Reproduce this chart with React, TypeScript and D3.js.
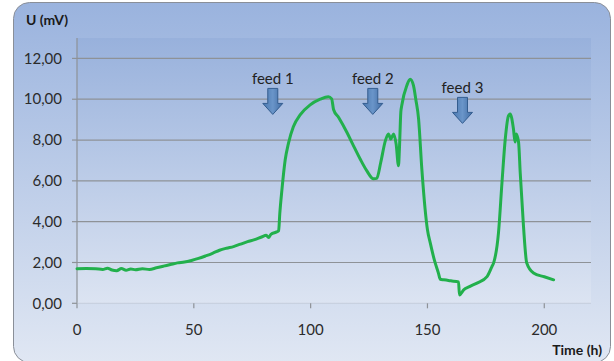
import React from 'react';
import * as d3 from 'd3';

// readings
const timeH = [0, 4, 8, 11, 13, 15, 17, 19, 21, 23, 25, 28, 31, 34, 37, 40, 43, 46, 49, 52, 55, 58, 61, 64, 67, 70, 73, 76, 79, 81, 82, 83, 85.5, 86.3, 86.8, 87.7, 89.1, 90.5, 92.6, 95.5, 99.8, 104.1, 107.6, 109, 109.8, 112, 115.5, 118, 121.2, 124, 126.9, 128.3, 130, 132, 133.3, 134.3, 135.5, 136.6, 137.6, 138, 138.6, 139, 141.2, 142.6, 144, 145, 146.2, 147.6, 149, 150, 151.2, 153, 154.7, 155.5, 157, 160, 163.3, 163.7, 165.5, 168, 171.2, 175.5, 177.6, 178.3, 180.4, 181.9, 183.3, 184.7, 185.4, 186.8, 187.5, 188, 189, 189.7, 191.1, 192.5, 195.4, 200, 204];
const voltage = [1.69, 1.7, 1.69, 1.66, 1.72, 1.63, 1.6, 1.7, 1.62, 1.68, 1.64, 1.69, 1.66, 1.74, 1.82, 1.9, 1.98, 2.02, 2.1, 2.2, 2.32, 2.45, 2.6, 2.7, 2.78, 2.9, 3.02, 3.12, 3.25, 3.33, 3.22, 3.38, 3.5, 3.55, 4.4, 5.55, 7.02, 7.84, 8.65, 9.23, 9.72, 10.0, 10.12, 10.02, 9.5, 9.1, 8.38, 7.8, 7.07, 6.5, 6.1, 6.12, 6.9, 7.97, 8.3, 8.05, 8.3, 7.8, 6.74, 7.56, 9.37, 9.69, 10.68, 10.98, 10.68, 10.0, 9.04, 6.57, 4.6, 3.6, 2.96, 2.1, 1.48, 1.18, 1.15, 1.1, 1.05, 0.41, 0.66, 0.82, 0.99, 1.31, 1.8, 1.97, 3.45, 5.92, 8.05, 9.2, 9.28, 8.55, 7.9, 8.3, 7.89, 6.41, 3.78, 1.97, 1.48, 1.3, 1.15];

const xTicks = [0, 50, 100, 150, 200];
const yTicks = [0, 2, 4, 6, 8, 10, 12];

const feedLabels = ['feed 1', 'feed 2', 'feed 3'];
const feedTimes = [83.8, 126.6, 165];
const feedLevels = [10.53, 10.53, 10.09]; // arrow top, in mV

const W = 614;
const H = 361;
const plot = { left: 77, right: 591, top: 38, bottom: 303.3 };
const font = 'Lato, "Open Sans", sans-serif';

export default function App() {
  const x = d3.scaleLinear().domain([0, 220]).range([plot.left, plot.right]);
  const y = d3.scaleLinear().domain([0, 13]).range([plot.bottom, plot.top]);
  const fmt = (v: number) => d3.format('.2f')(v).replace('.', ',');

  const pts = timeH.map((t, i) => [t, voltage[i]] as [number, number]);
  const line = d3.line<[number, number]>().x(d => x(d[0])).y(d => y(d[1])).curve(d3.curveMonotoneX);

  const arrow = (cx: number, top: number) => {
    // block arrow pointing down
    const sw = 5, hw = 10, shaft = 15, head = 11;
    return `M${cx - sw},${top} L${cx + sw},${top} L${cx + sw},${top + shaft} L${cx + hw},${top + shaft} L${cx},${top + shaft + head} L${cx - hw},${top + shaft} L${cx - sw},${top + shaft} Z`;
  };

  return (
    <svg width={W} height={H} style={{ position: 'absolute', left: 0, top: 0, background: '#fff' }}>
      <defs>
        <linearGradient id="bg" x1="0" y1="0" x2="0" y2="1">
          <stop offset="0" stopColor="#9ab3de" />
          <stop offset="1" stopColor="#e0e7f3" />
        </linearGradient>
        <linearGradient id="pa" x1="0" y1="0" x2="0" y2="1">
          <stop offset="0" stopColor="#98b1dc" />
          <stop offset="1" stopColor="#dce4f2" />
        </linearGradient>
        <linearGradient id="arr" x1="0" y1="0" x2="1" y2="0">
          <stop offset="0" stopColor="#4a78b0" />
          <stop offset="0.5" stopColor="#6a95c9" />
          <stop offset="1" stopColor="#3f6ba3" />
        </linearGradient>
      </defs>

      <rect x={13.5} y={2.5} width={597} height={360} rx={16} fill="url(#bg)" stroke="#8a8f98" />
      <rect x={plot.left} y={plot.top} width={plot.right - plot.left} height={plot.bottom - plot.top} fill="url(#pa)" />

      {yTicks.map(v => (
        <g key={v}>
          {v > 0 && <line x1={plot.left} x2={plot.right} y1={y(v)} y2={y(v)} stroke="#8e9297" strokeWidth={1.2} />}
          <line x1={plot.left - 5} x2={plot.left} y1={y(v)} y2={y(v)} stroke="#8e9297" strokeWidth={1.2} />
          <text x={62} y={y(v)} dy="0.35em" textAnchor="end" fontFamily={font} fontSize={15} fill="#2b2b2b">{fmt(v)}</text>
        </g>
      ))}
      <line x1={plot.left} x2={plot.left} y1={plot.top} y2={plot.bottom} stroke="#8e9297" strokeWidth={1.2} />
      <line x1={plot.left} x2={plot.right} y1={plot.bottom} y2={plot.bottom} stroke="#c5cedc" strokeWidth={1} />

      {xTicks.map(v => (
        <g key={v}>
          <line x1={x(v)} x2={x(v)} y1={plot.bottom} y2={plot.bottom + 5} stroke="#8e9297" strokeWidth={1.2} />
          <text x={x(v)} y={335} textAnchor="middle" fontFamily={font} fontSize={15} fill="#2b2b2b">{v}</text>
        </g>
      ))}

      <path d={line(pts) || ''} fill="none" stroke="#22b04c" strokeWidth={3} strokeLinejoin="round" strokeLinecap="round" />

      {feedLabels.map((lab, i) => (
        <g key={lab}>
          <text x={x(feedTimes[i])} y={y(feedLevels[i]) - 4} textAnchor="middle" fontFamily={font} fontSize={15} fill="#222">{lab}</text>
          <path d={arrow(x(feedTimes[i]), y(feedLevels[i]))} fill="url(#arr)" stroke="#345d8f" strokeWidth={1} />
        </g>
      ))}

      <text x={26} y={25} fontFamily={font} fontSize={14} fontWeight="bold" fill="#1a1a1a">U (mV)</text>
      <text x={602} y={355} textAnchor="end" fontFamily={font} fontSize={14} fontWeight="bold" fill="#1a1a1a">Time (h)</text>
    </svg>
  );
}
